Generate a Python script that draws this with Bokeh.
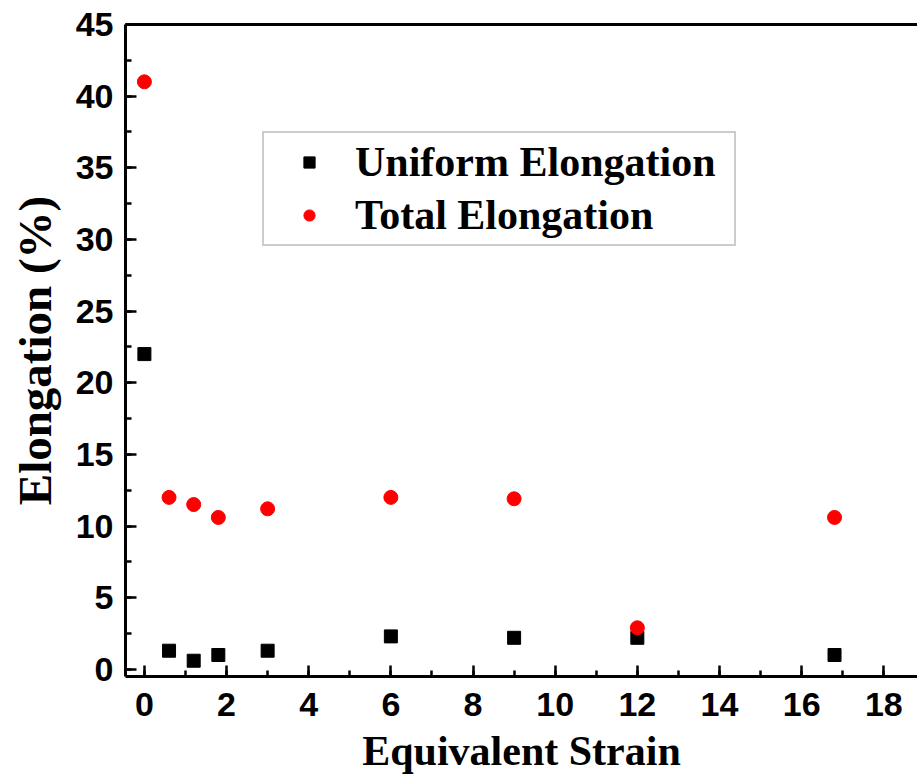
from bokeh.plotting import figure
from bokeh.models import (LinearAxis, SingleIntervalTicker, FixedTicker, Range1d,
                          Legend, LegendItem)
from bokeh.embed import file_html
from bokeh.resources import INLINE

# ---- data ----
strain = [0, 0.6, 1.2, 1.8, 3, 6, 9, 12, 16.8]
uniform_elongation = [22.0, 1.3, 0.6, 1.0, 1.3, 2.3, 2.2, 2.2, 1.0]
total_elongation = [41.0, 12.0, 11.5, 10.6, 11.2, 12.0, 11.9, 2.9, 10.6]
x_label = "Equivalent Strain"
y_label = "Elongation (%)"
series_names = ["Uniform Elongation", "Total Elongation"]

p = figure(width=917, height=776, output_backend="svg", toolbar_location=None,
           x_range=Range1d(-0.46, 18.82), y_range=Range1d(-0.5, 45),
           min_border_left=125, min_border_right=0, min_border_top=24,
           min_border_bottom=100)
p.outline_line_color = None
p.xgrid.visible = False
p.ygrid.visible = False
p.background_fill_color = "white"
p.border_fill_color = "white"

r1 = p.scatter(strain, uniform_elongation, marker="square", size=13,
               fill_color="black", line_color="black")
r2 = p.scatter(strain, total_elongation, marker="circle", size=14,
               fill_color="#ff0000", line_color="#ff0000")

tick_font = "Liberation Sans"
title_font = "Liberation Serif"

for ax in (p.xaxis[0], p.yaxis[0]):
    ax.axis_line_width = 3
    ax.major_tick_in = 11
    ax.major_tick_out = 0
    ax.minor_tick_in = 6
    ax.minor_tick_out = 0
    ax.major_tick_line_width = 2.5
    ax.minor_tick_line_width = 2.5
    ax.major_label_text_font = tick_font
    ax.major_label_text_font_style = "bold"
    ax.major_label_text_font_size = "34px"
    ax.major_label_text_color = "black"
    ax.axis_label_text_font = title_font
    ax.axis_label_text_font_style = "bold"
    ax.axis_label_text_color = "black"

p.xaxis[0].ticker = SingleIntervalTicker(interval=2, num_minor_ticks=2)
p.yaxis[0].ticker = SingleIntervalTicker(interval=5, num_minor_ticks=2)
p.xaxis[0].axis_label = x_label
p.yaxis[0].axis_label = y_label
p.xaxis[0].axis_label_text_font_size = "42px"
p.yaxis[0].axis_label_text_font_size = "47px"
p.xaxis[0].major_label_standoff = 16
p.xaxis[0].axis_label_standoff = 9
p.yaxis[0].major_label_standoff = 12
p.yaxis[0].axis_label_standoff = 12

top = LinearAxis(ticker=FixedTicker(ticks=[]), axis_line_width=3,
                 major_label_text_font_size="0px", major_tick_line_color=None,
                 minor_tick_line_color=None)
p.add_layout(top, "above")

legend = Legend(items=[LegendItem(label=series_names[0], renderers=[r1]),
                       LegendItem(label=series_names[1], renderers=[r2])],
                location=(137, 430), orientation="vertical")
legend.label_text_font = title_font
legend.label_text_font_style = "bold"
legend.label_text_font_size = "42px"
legend.label_text_color = "black"
legend.border_line_color = "#999999"
legend.border_line_width = 2
legend.padding = 5
legend.margin = 0
legend.spacing = 5
legend.glyph_width = 80
legend.glyph_height = 28
legend.label_standoff = 6
legend.label_width = 374
legend.background_fill_alpha = 1.0
p.add_layout(legend, "center")

open("out.html", "w").write(file_html(p, INLINE))
